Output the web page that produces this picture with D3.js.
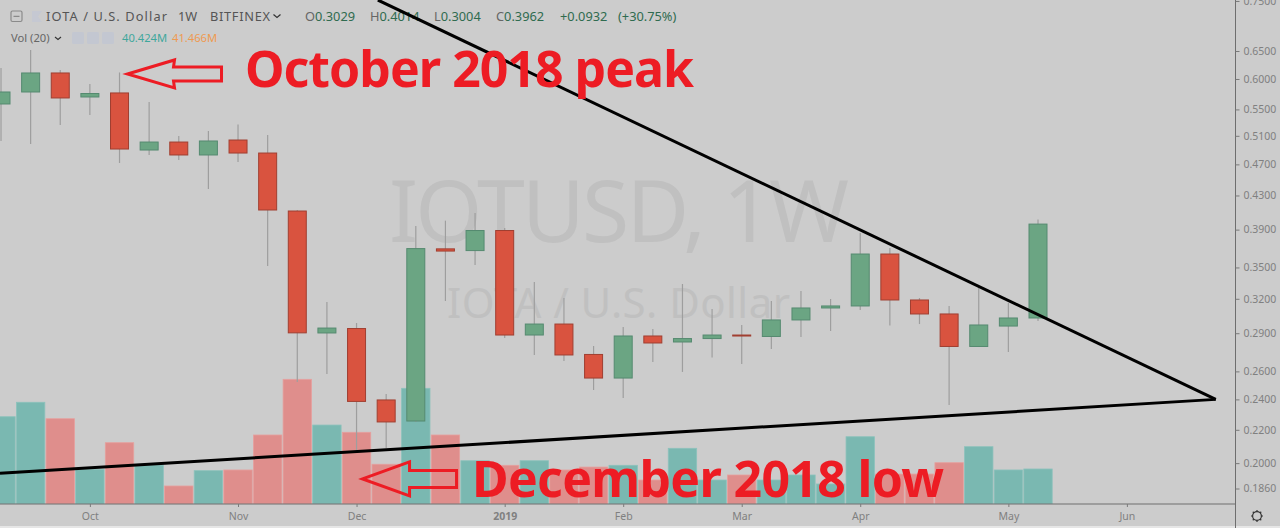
<!DOCTYPE html>
<html><head><meta charset="utf-8">
<script src="https://cdn.jsdelivr.net/npm/d3@7"></script>
<style>html,body{margin:0;padding:0;background:#ccc;overflow:hidden}svg{display:block}
text{font-family:"Noto Sans",sans-serif}</style></head><body><svg id="c" width="1280" height="528"></svg>
<script>
const opens =[.5586,.5781,.6104,.5699,.5765,.4897,.5010,.4828,.5039,.4855,.4113,.2902,.2939,.2396,.2256,.3691,.3673,.3890,.2885,.2977,.2729,.2551,.2877,.2828,.2856,.2885,.2873,.3012,.3117,.3135,.3637,.3189,.3064,.2792,.2960,.3029];
const highs =[.6192,.6519,.6156,.5915,.6113,.5618,.5097,.5171,.5268,.5112,.4125,.3171,.2986,.2437,.3940,.4001,.4090,.3918,.3358,.3207,.2796,.2952,.2935,.3338,.3108,.2969,.3180,.3272,.3198,.3862,.3700,.3207,.3135,.3300,.3162,.4014];
const lows  =[.5025,.4982,.5260,.5413,.4719,.4828,.4759,.4381,.4732,.3514,.2522,.2581,.2059,.2088,.2250,.3180,.3524,.2860,.2725,.2678,.2465,.2410,.2671,.2596,.2705,.2656,.2772,.2869,.2918,.3099,.2965,.2977,.2362,.2792,.2748,.3004];
const closes=[.5781,.6104,.5683,.5756,.4911,.5010,.4828,.5025,.4855,.4125,.2903,.2943,.2386,.2250,.3694,.3668,.3890,.2885,.2977,.2725,.2551,.2877,.2820,.2856,.2885,.2877,.3012,.3117,.3135,.3637,.3189,.3064,.2792,.2969,.3029,.3962];
const volumes=[100.8,117.5,98.5,40.1,70.8,45,20.8,38.5,39.3,79.7,144,91.2,82.8,45.9,133.6,79.7,50,44.7,50,39.3,42.7,44.7,27.7,64.3,27.7,33.5,27.7,33.5,23.1,77.7,34.6,34.6,47.7,66.2,39.3,40.424];
const volumeUp=[1,1,0,1,0,1,0,1,0,0,0,1,0,0,1,0,1,0,1,0,0,1,0,1,1,0,1,1,1,1,0,0,0,1,1,1];
const priceTicks=[.75,.65,.6,.55,.51,.47,.43,.39,.35,.32,.29,.26,.24,.22,.2,.186];
const monthIdx=[3,8,12,17,21,25,29,34,38];
const monthLabels=["Oct","Nov","Dec","2019","Feb","Mar","Apr","May","Jun"];
const trendIdx1=[12.72,41], trendPrice1=[.752,.24];
const trendIdx2=[-.034,41], trendPrice2=[.1943,.24];

const svg=d3.select("#c");
const x=d3.scaleLinear().domain([0,35]).range([1,1038]);
const y=d3.scaleLog().domain([.65,.186]).range([51,488.5]);
const v=d3.scaleLinear().domain([0,40.424]).range([504,469]);
const W=1235.5,B=504;
svg.append("rect").attr("width",1280).attr("height",528).attr("fill","#cccccc");
svg.append("rect").attr("y",526).attr("width",1280).attr("height",2).attr("fill","#e6e6e6");
svg.append("defs").append("clipPath").attr("id","cp").append("rect").attr("width",W).attr("height",B);

// watermark
svg.append("text").attr("x",389).attr("y",242).attr("font-size",86).attr("fill","#c0c0c0").attr("textLength",460).text("IOTUSD, 1W");
svg.append("text").attr("x",447).attr("y",318).attr("font-size",42).attr("fill","#c0c0c0").attr("textLength",343).text("IOTA / U.S. Dollar");

const g=svg.append("g").attr("clip-path","url(#cp)");
// volume
g.selectAll(".vol").data(volumes).join("rect").attr("class","vol")
 .attr("x",(d,i)=>x(i)-14.2).attr("width",28.4).attr("y",d=>v(d)).attr("height",d=>B-v(d))
 .attr("fill",(d,i)=>volumeUp[i]?"#7ab8b1":"#df8e8c").attr("stroke",(d,i)=>volumeUp[i]?"#8cc2bc":"#e6a09e").attr("stroke-width",.8);
// candles
const idx=d3.range(opens.length);
g.selectAll(".wick").data(idx).join("line").attr("class","wick")
 .attr("x1",i=>x(i)).attr("x2",i=>x(i)).attr("y1",i=>y(highs[i])).attr("y2",i=>y(lows[i]))
 .attr("stroke","#9e9e9e").attr("stroke-width",1.2);
g.selectAll(".body").data(idx).join("rect").attr("class","body")
 .attr("x",i=>x(i)-9).attr("width",18)
 .attr("y",i=>y(Math.max(opens[i],closes[i])))
 .attr("height",i=>Math.max(1,Math.abs(y(opens[i])-y(closes[i]))))
 .attr("fill",i=>closes[i]>=opens[i]?"#6ba583":"#d9533f")
 .attr("stroke",i=>closes[i]>=opens[i]?"#558a70":"#a03f31").attr("stroke-width",1);

// axes
const ya=d3.axisRight(y).tickValues(priceTicks).tickFormat(d3.format(".4f")).tickSize(4).tickPadding(4);
const yg=svg.append("g").attr("transform",`translate(${W},0)`).call(ya);
yg.select(".domain").attr("d",`M0,0V528`).attr("stroke","#6e6e6e").attr("fill","none");
yg.selectAll("line").attr("stroke","#7a7a7a");
yg.selectAll("text").attr("fill","#808080").attr("font-size",10.5).attr("font-family","Noto Sans");
const xa=d3.axisBottom(x).tickValues(monthIdx).tickFormat((d,i)=>monthLabels[i]).tickSize(3).tickPadding(6);
const xg=svg.append("g").attr("transform",`translate(0,${B})`).call(xa);
xg.select(".domain").attr("d",`M0,0H${W}`).attr("stroke","#6e6e6e").attr("fill","none");
xg.selectAll("line").attr("stroke","#7a7a7a");
xg.selectAll("text").attr("fill","#808080").attr("font-size",10.5).attr("font-family","Noto Sans")
  .attr("font-weight",(d,i)=>monthLabels[i]==="2019"?700:400);

// header
function t(px,py,s,fill,size,w){return svg.append("text").attr("x",px).attr("y",py).attr("fill",fill).attr("font-size",size||12.5).attr("font-weight",w||400).text(s);}
svg.append("rect").attr("x",11).attr("y",11).attr("width",11).attr("height",10.5).attr("rx",1.5).attr("fill","none").attr("stroke","#8a8a8a").attr("stroke-width",1.2);
svg.append("line").attr("x1",13.5).attr("x2",19.5).attr("y1",16.3).attr("y2",16.3).attr("stroke","#7a7a7a");
svg.append("path").attr("d","M32,11H42L38,16.5L42,22H32Z").attr("fill","#c5c8d2");
t(46,21,"IOTA / U.S. Dollar","#555",12.8).attr("textLength",121);
t(178,21,"1W","#555",12.8);
t(210,21,"BITFINEX","#555",12.8).attr("textLength",60);
svg.append("path").attr("d","M273.5,14.5l3.5,3l3.5,-3").attr("fill","none").attr("stroke","#333").attr("stroke-width",1.2);
const dk="#2f6b4f",gr="#666";
[[305,"O","0.3029"],[370,"H","0.4014"],[434,"L","0.3004"],[496,"C","0.3962"]].forEach(([px,a,b])=>{
 const e=t(px,21,"",gr,12.8);e.append("tspan").text(a);e.append("tspan").attr("fill",dk).text(b);});
t(560,21,"+0.0932","#2f6b4f",12.8);
t(618,21,"(+30.75%)","#2f6b4f",12.8);
t(11,42,"Vol (20)","#666",11.2);
svg.append("path").attr("d","M55,37l3,2.5l3,-2.5").attr("fill","none").attr("stroke","#333").attr("stroke-width",1.1);
[72,87,102].forEach(px=>svg.append("rect").attr("x",px).attr("y",32).attr("width",12).attr("height",12).attr("rx",1.5).attr("fill","#c3c7d1"));
t(122,42,"40.424M","#3fa79c",11.2);
t(172,42,"41.466M","#ef9a50",11.2);

// trend lines
const ln=d3.line().x(d=>x(d[0])).y(d=>y(d[1]));
[[trendIdx1,trendPrice1],[trendIdx2,trendPrice2]].forEach(([a,b])=>
 svg.append("path").attr("d",ln(a.map((k,i)=>[k,b[i]]))).attr("fill","none").attr("stroke","#000").attr("stroke-width",3));

// arrows anchored on the peak and the low
const red="#ed1c24";
function arrow(tx,ty,h1,h2,hw,bw,len){
 const p=[[0,0],[h1,-hw],[h2,-bw],[len,-bw],[len,bw],[h2,bw],[h1,hw]].map(q=>[tx+q[0],ty+q[1]]);
 svg.append("polygon").attr("points",p.join(" ")).attr("fill","none").attr("stroke",red).attr("stroke-width",3);
}
arrow(x(4)+8,y(highs[4])+1.5,47,46,14,7,94);
arrow(x(12)+6,y(lows[12])+26,47,47,17,8.5,94);
svg.append("text").attr("x",245).attr("y",87).attr("fill",red).attr("font-family","Lato").attr("font-weight",700).attr("font-size",50).attr("textLength",449).text("October 2018 peak");
svg.append("text").attr("x",472).attr("y",497).attr("fill",red).attr("font-family","Lato").attr("font-weight",700).attr("font-size",50).attr("textLength",472).text("December 2018 low");

// gear
const gc=svg.append("g").attr("transform","translate(1257,516)").attr("fill","none").attr("stroke","#333").attr("stroke-width",1.2);
gc.append("circle").attr("r",4.4);
d3.range(8).forEach(k=>{const a=k*Math.PI/4;gc.append("line").attr("x1",4.4*Math.cos(a)).attr("y1",4.4*Math.sin(a)).attr("x2",6*Math.cos(a)).attr("y2",6*Math.sin(a));});
</script></body></html>
